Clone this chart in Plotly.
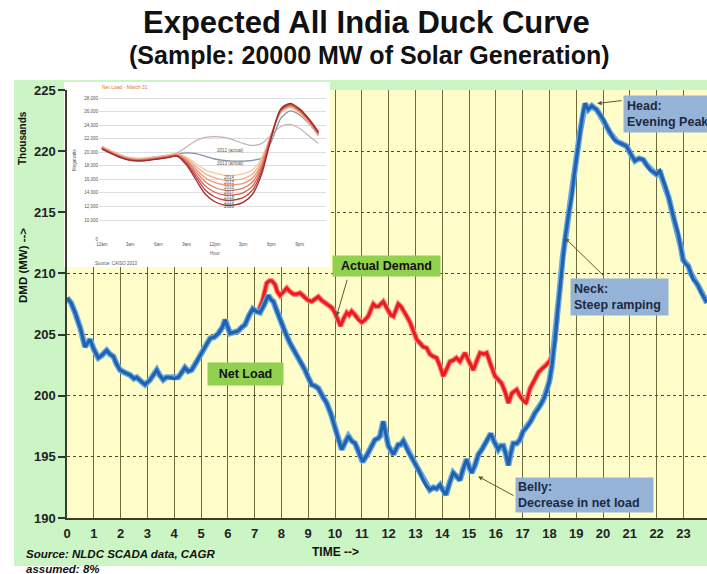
import plotly.graph_objects as go

# ---------------- main chart data (hour of day, demand in thousand MW) ----------------
net_hours = [0.00, 0.15, 0.30, 0.50, 0.67, 0.86, 1.00, 1.17, 1.30, 1.48, 1.60, 1.73, 1.85, 1.98,
             2.15, 2.35, 2.50, 2.60, 2.75, 2.91, 3.10, 3.35, 3.45, 3.59, 3.70, 3.84, 4.00, 4.15,
             4.28, 4.40, 4.52, 4.65, 4.84, 5.03, 5.20, 5.34, 5.50, 5.65, 5.80, 5.90, 6.00, 6.08,
             6.25, 6.39, 6.52, 6.64, 6.80, 6.93, 7.05, 7.20, 7.35, 7.51, 7.60, 7.70, 7.82, 7.95,
             8.12, 8.32, 8.48, 8.63, 8.75, 8.88, 9.00, 9.13, 9.25, 9.38, 9.55, 9.69, 9.85, 10.00,
             10.12, 10.25, 10.38, 10.50, 10.62, 10.75, 10.90, 11.03, 11.18, 11.31, 11.49, 11.60,
             11.68, 11.80, 11.90, 11.99, 12.10, 12.18, 12.36, 12.45, 12.55, 12.65, 12.74, 12.90,
             13.05, 13.17, 13.29, 13.42, 13.54, 13.67, 13.79, 13.92, 14.04, 14.14, 14.28, 14.41,
             14.53, 14.66, 14.78, 14.91, 15.00, 15.10, 15.22, 15.35, 15.48, 15.60, 15.70, 15.81,
             15.95, 16.09, 16.18, 16.28, 16.38, 16.47, 16.56, 16.65, 16.78, 16.90, 17.02, 17.15,
             17.30, 17.46, 17.58, 17.71, 17.80, 17.90, 18.00, 18.09, 18.21, 18.30, 18.40, 18.50,
             18.58, 18.70, 18.83, 18.92, 19.02, 19.14, 19.24, 19.33, 19.45, 19.58, 19.68, 19.76,
             19.88, 20.01, 20.14, 20.26, 20.40, 20.51, 20.70, 20.88, 21.05, 21.19, 21.35, 21.50,
             21.62, 21.75, 21.88, 22.00, 22.12, 22.20, 22.31, 22.45, 22.56, 22.68, 22.80, 22.90,
             22.99, 23.08, 23.18, 23.28, 23.37, 23.46, 23.55, 23.65, 23.74, 23.88]
net_load = [208.0, 207.6, 206.8, 205.5, 204.0, 204.6, 203.8, 203.1, 203.3, 203.7, 203.4, 203.2, 202.6, 202.1,
            201.9, 201.7, 201.4, 201.5, 201.2, 200.9, 201.3, 202.1, 201.7, 201.3, 201.5, 201.5, 201.4, 201.5,
            201.9, 202.3, 202.0, 202.1, 202.8, 203.5, 204.2, 204.7, 204.8, 205.1, 205.6, 206.2, 205.6, 205.1,
            205.2, 205.3, 205.6, 205.8, 206.6, 207.1, 206.9, 206.8, 207.4, 208.2, 207.9, 207.7, 207.0, 206.2,
            205.3, 204.3, 203.7, 203.1, 202.7, 202.1, 201.5, 200.9, 200.8, 200.6, 199.9, 199.4, 198.5, 197.5,
            196.5, 195.6, 196.2, 196.7, 196.3, 196.1, 195.3, 194.6, 195.1, 195.6, 196.4, 196.5,
            196.7, 197.9, 196.8, 195.9, 195.5, 195.2, 196.0, 196.0, 196.3, 195.8, 195.4, 194.8,
            194.2, 193.7, 193.1, 192.6, 192.3, 192.5, 192.4, 192.7, 192.2, 191.9, 192.9, 193.7,
            193.4, 193.1, 194.0, 194.8, 194.2, 193.7, 194.3, 195.2, 195.6, 196.1, 196.5, 196.9,
            196.2, 195.6, 195.9, 195.9, 195.2, 194.3, 195.3, 196.1, 196.1, 196.4, 197.1, 197.4,
            197.9, 198.6, 198.9, 199.4, 199.8, 200.4, 201.2, 202.4, 204.6, 206.8, 209.0, 211.4,
            212.8, 214.6, 216.3, 218.0, 219.6, 221.5, 223.0, 223.9, 223.4, 223.7, 223.5, 223.4,
            223.0, 222.6, 222.0, 221.5, 221.0, 220.8, 220.6, 220.4, 219.7, 219.2, 219.4, 219.3,
            218.9, 218.5, 218.3, 218.1, 218.4, 217.8, 217.2, 216.2, 215.2, 214.2, 213.3, 212.2,
            211.1, 210.8, 210.6, 210.0, 209.5, 209.3, 209.0, 208.5, 208.1, 207.6]

demand_hours = [7.14, 7.30, 7.45, 7.55, 7.64, 7.76, 7.85, 7.95, 8.08, 8.20, 8.33, 8.45, 8.57, 8.69,
                8.80, 8.88, 9.00, 9.13, 9.25, 9.38, 9.50, 9.63, 9.75, 9.88, 9.97, 10.06, 10.21, 10.32,
                10.44, 10.53, 10.62, 10.75, 10.88, 11.00, 11.12, 11.24, 11.33, 11.43, 11.52, 11.62,
                11.71, 11.80, 11.90, 11.99, 12.08, 12.18, 12.27, 12.36, 12.46, 12.55, 12.68, 12.80,
                12.92, 13.05, 13.17, 13.29, 13.42, 13.54, 13.67, 13.79, 13.92, 14.04, 14.17, 14.29,
                14.41, 14.53, 14.66, 14.75, 14.85, 15.00, 15.16, 15.28, 15.41, 15.55, 15.66, 15.80,
                15.97, 16.10, 16.22, 16.35, 16.47, 16.60, 16.70, 16.78, 16.90, 17.02, 17.13, 17.20,
                17.28, 17.45, 17.59, 17.72, 17.84, 17.95, 18.03, 18.12, 18.21, 18.30]
actual_demand = [206.9, 207.8, 209.2, 209.4, 209.4, 209.1, 208.5, 208.2, 208.5, 208.8, 208.5, 208.3, 208.3, 208.4,
                 208.2, 208.0, 207.8, 207.7, 207.9, 208.1, 207.8, 207.6, 207.4, 207.2, 206.9, 206.5, 205.7, 206.3,
                 206.8, 206.6, 206.9, 206.6, 206.2, 206.0, 206.2, 206.5, 207.0, 207.5, 207.3, 207.3,
                 207.5, 207.7, 207.3, 207.0, 206.6, 206.5, 207.0, 207.5, 207.3, 207.0, 206.5, 206.0,
                 205.3, 204.6, 204.3, 204.0, 203.9, 203.4, 203.2, 203.1, 202.4, 201.6, 202.2, 202.8,
                 202.9, 203.1, 202.8, 203.2, 203.5, 202.8, 202.1, 202.8, 203.5, 203.4, 203.5, 202.6,
                 201.6, 201.3, 201.0, 200.3, 199.4, 200.2, 200.4, 200.5, 200.0, 199.6, 199.4, 200.0,
                 200.6, 201.3, 201.9, 202.2, 202.4, 202.7, 202.9, 203.5, 204.6, 206.8]

hour_ticks = list(range(24))
dmd_ticks = [190, 195, 200, 205, 210, 215, 220, 225]

# ---------------- inset: CAISO net load curves (MW by hour) ----------------
inset_hours = list(range(24))
net_2012 = [20900, 20200, 19600, 19200, 19100, 19200, 19400, 19600, 19900, 20800, 21700, 22200,
            22300, 22200, 21800, 21300, 21000, 21300, 22600, 23800, 24100, 23500, 22400, 21300]
net_2013 = [20700, 20000, 19400, 19000, 18900, 19000, 19200, 19400, 19700, 19900, 19800, 19400,
            19000, 18800, 18700, 18700, 18800, 19200, 21600, 25000, 26100, 25500, 24200, 22500]
net_2014 = [20800, 20100, 19500, 19100, 19000, 19100, 19300, 19500, 19700, 19300, 18300, 17400,
            16900, 16600, 16600, 16800, 17400, 19300, 22800, 25800, 26600, 25800, 24300, 22400]
net_2015 = [20750, 20050, 19450, 19050, 18950, 19050, 19250, 19450, 19650, 19100, 17900, 16800,
            16200, 15900, 15900, 16100, 16800, 18900, 22700, 25900, 26700, 25900, 24400, 22500]
net_2016 = [20700, 20000, 19400, 19000, 18900, 19000, 19200, 19400, 19600, 18900, 17500, 16200,
            15500, 15200, 15200, 15400, 16200, 18500, 22600, 26000, 26800, 26000, 24500, 22600]
net_2017 = [20650, 19950, 19350, 18950, 18850, 18950, 19150, 19350, 19550, 18700, 17100, 15600,
            14800, 14400, 14400, 14700, 15600, 18100, 22500, 26100, 26900, 26100, 24600, 22700]
net_2018 = [20600, 19900, 19300, 18900, 18800, 18900, 19100, 19300, 19500, 18500, 16700, 15000,
            14100, 13700, 13700, 14000, 15000, 17700, 22400, 26200, 27000, 26200, 24700, 22800]
net_2019 = [20550, 19850, 19250, 18850, 18750, 18850, 19050, 19250, 19450, 18300, 16300, 14400,
            13400, 12950, 12950, 13300, 14400, 17300, 22300, 26300, 27100, 26300, 24800, 22900]
net_2020 = [20500, 19800, 19200, 18800, 18700, 18800, 19000, 19200, 19400, 18100, 15900, 13800,
            12700, 12200, 12200, 12600, 13800, 16900, 22200, 26400, 27200, 26400, 24900, 23000]

inset_labels = ["2012 (actual)", "2013 (actual)", "2014", "2015", "2016", "2017", "2018", "2019", "2020"]
inset_curves = [net_2012, net_2013, net_2014, net_2015, net_2016, net_2017, net_2018, net_2019, net_2020]
inset_colors = ["#c9b3b3", "#8593ad", "#f6c9a3", "#f2b088", "#ec9675", "#e17b63", "#d25f52", "#bd4444", "#a32c2c"]
inset_label_hour = [13.7, 13.7, 13.6, 13.6, 13.6, 13.6, 13.6, 13.6, 13.6]
inset_label_mw = [20220, 18360, 16340, 15600, 14870, 14130, 13390, 12650, 11920]

inset_hour_ticks = [0, 3, 6, 9, 12, 15, 18, 21]
inset_hour_text = ["12am", "3am", "6am", "9am", "12pm", "3pm", "6pm", "9pm"]
inset_mw_ticks = [7100, 10000, 12000, 14000, 16000, 18000, 20000, 22000, 24000, 26000, 28000]
inset_mw_text = ["0", "10,000", "12,000", "14,000", "16,000", "18,000", "20,000", "22,000",
                 "24,000", "26,000", "28,000"]

# ---------------- layout geometry ----------------
W, H = 707, 574
L, R, T, B = 67, 0, 90, 56
X_MAX = 23.88
FONT = "Arial, Liberation Sans, sans-serif"


def px(x):
    return (x - L) / (W - L - R)


def py(y):
    return (H - B - y) / (H - T - B)


fig = go.Figure()

# actual demand (red) drawn first so the net load sits on top where they coincide
fig.add_trace(go.Scatter(x=demand_hours, y=actual_demand, mode="lines",
                         line=dict(color="#f58b84", width=5.5), hoverinfo="skip"))
fig.add_trace(go.Scatter(x=demand_hours, y=actual_demand, mode="lines",
                         line=dict(color="#ec1c1c", width=3.2), hoverinfo="skip"))
# net load (blue) with a soft halo
fig.add_trace(go.Scatter(x=net_hours, y=net_load, mode="lines",
                         line=dict(color="#67a6e0", width=6), hoverinfo="skip"))
fig.add_trace(go.Scatter(x=net_hours, y=net_load, mode="lines",
                         line=dict(color="#1f62ae", width=3.2), hoverinfo="skip"))

# inset curves
for name, vals, col in zip(inset_labels, inset_curves, inset_colors):
    fig.add_trace(go.Scatter(x=inset_hours, y=vals, mode="lines", name=name,
                             line=dict(color=col, width=1.3, shape="spline", smoothing=0.8),
                             xaxis="x2", yaxis="y2", hoverinfo="skip"))

shapes = [
    # green slide panel
    dict(type="rect", xref="paper", yref="paper", x0=px(14), x1=1.0, y0=py(566), y1=py(80),
         fillcolor="#ccf5c5", line=dict(width=0), layer="below"),
    # yellow plot area
    dict(type="rect", xref="paper", yref="paper", x0=0, x1=1, y0=0, y1=1,
         fillcolor="#fffdca", line=dict(width=0), layer="below"),
    # white inset panel (outside plot area part)
    dict(type="rect", xref="paper", yref="paper", x0=px(64), x1=px(330), y0=py(267), y1=py(82),
         fillcolor="white", line=dict(width=0), layer="below"),
    # white inset panel covering the main grid
    dict(type="rect", xref="x", yref="y", x0=-1, x1=(330 - L) / ((W - L - R) / X_MAX),
         y0=225 - (267 - T) / ((H - T - B) / 35.0), y1=226,
         fillcolor="white", line=dict(width=0), layer="between"),
]

ann = []
# titles
ann.append(dict(text="<b>Expected All India Duck Curve</b>", x=px(366), y=py(22), xref="paper", yref="paper",
                showarrow=False, font=dict(family=FONT, size=31, color="#111"), xanchor="center", yanchor="middle"))
ann.append(dict(text="<b>(Sample: 20000 MW of Solar Generation)</b>", x=px(369), y=py(55), xref="paper",
                yref="paper", showarrow=False, font=dict(family=FONT, size=25, color="#111"),
                xanchor="center", yanchor="middle"))
# axis titles and notes
ann.append(dict(text="<b>DMD (MW) --></b>", x=px(23), y=py(266), xref="paper", yref="paper", textangle=-90,
                showarrow=False, font=dict(family=FONT, size=11.5, color="#111"), xanchor="center", yanchor="middle"))
ann.append(dict(text="<b>Thousands</b>", x=px(22), y=py(138), xref="paper", yref="paper", textangle=-90,
                showarrow=False, font=dict(family=FONT, size=10, color="#111"), xanchor="center", yanchor="middle"))
ann.append(dict(text="<b>TIME --></b>", x=px(335), y=py(552), xref="paper", yref="paper",
                showarrow=False, font=dict(family=FONT, size=12, color="#111"), xanchor="center", yanchor="middle"))
ann.append(dict(text="<b><i>Source: NLDC SCADA data, CAGR<br>assumed: 8%</i></b>", x=px(24), y=py(546),
                xref="paper", yref="paper", showarrow=False, align="left",
                font=dict(family=FONT, size=11.5, color="#111"), xanchor="left", yanchor="top"))

# callout boxes
GREEN = "#92d050"
BLUE_BOX = "#95b3d7"
box_font = dict(family=FONT, size=12.5, color="#111")
blue_font = dict(family=FONT, size=12.5, color="#1d2940")
ann.append(dict(text="<b>Actual Demand</b>", x=px(386), y=py(266), xref="paper", yref="paper", showarrow=False,
                bgcolor=GREEN, borderpad=3, width=101, font=box_font, xanchor="center", yanchor="middle"))
ann.append(dict(text="<b>Net Load</b>", x=px(245), y=py(374), xref="paper", yref="paper", showarrow=False,
                bgcolor=GREEN, borderpad=4, width=67, font=box_font, xanchor="center", yanchor="middle"))
ann.append(dict(text="<b>Head:<br>Evening Peak</b>", x=px(623), y=py(114), xref="paper", yref="paper",
                showarrow=False, bgcolor=BLUE_BOX, borderpad=3, width=100, align="left",
                font=blue_font, xanchor="left", yanchor="middle"))
ann.append(dict(text="<b>Neck:<br>Steep ramping</b>", x=px(570), y=py(297), xref="paper", yref="paper",
                showarrow=False, bgcolor=BLUE_BOX, borderpad=3, width=91, align="left",
                font=blue_font, xanchor="left", yanchor="middle"))
ann.append(dict(text="<b>Belly:<br>Decrease in net load</b>", x=px(515), y=py(495), xref="paper", yref="paper",
                showarrow=False, bgcolor=BLUE_BOX, borderpad=2, width=133, align="left",
                font=blue_font, xanchor="left", yanchor="middle"))

# pointer arrows
arrow_style = dict(showarrow=True, arrowhead=2, arrowsize=0.9, arrowwidth=1, arrowcolor="#5b5a3c",
                   text="", xref="x", yref="y", axref="pixel", ayref="pixel", standoff=0)
ann.append(dict(x=10.06, y=206.5, ax=11, ay=-38, **arrow_style))
ann.append(dict(x=19.78, y=223.9, ax=26, ay=-3, **arrow_style))
ann.append(dict(x=18.58, y=212.9, ax=40, ay=39, **arrow_style))
ann.append(dict(x=15.34, y=193.4, ax=37, ay=20, **arrow_style))

# inset texts
tiny = dict(family=FONT, size=4.5, color="#555")
for lab, hx, mw in zip(inset_labels, inset_label_hour, inset_label_mw):
    ann.append(dict(text=lab, x=hx, y=mw, xref="x2", yref="y2", showarrow=False, font=tiny,
                    xanchor="center", yanchor="middle"))
ann.append(dict(text="Net Load - March 31", x=px(100), y=py(87), xref="paper", yref="paper", showarrow=False,
                font=dict(family=FONT, size=5, color="#e0782f"), xanchor="left", yanchor="middle"))
ann.append(dict(text="Megawatts", x=px(74), y=py(160), xref="paper", yref="paper", showarrow=False,
                textangle=-90, font=tiny, xanchor="center", yanchor="middle"))
ann.append(dict(text="Hour", x=px(215), y=py(253), xref="paper", yref="paper", showarrow=False,
                font=tiny, xanchor="center", yanchor="middle"))
ann.append(dict(text="Source: CAISO 2013", x=px(93), y=py(263), xref="paper", yref="paper", showarrow=False,
                font=tiny, xanchor="left", yanchor="middle"))

fig.update_layout(
    width=W, height=H,
    margin=dict(l=L, r=R, t=T, b=B, pad=0),
    paper_bgcolor="white",
    plot_bgcolor="rgba(0,0,0,0)",
    showlegend=False,
    hovermode=False,
    font=dict(family=FONT),
    shapes=shapes,
    annotations=ann,
    xaxis=dict(domain=[0, 1], range=[0, X_MAX], tickvals=hour_ticks, showgrid=True,
               gridcolor="#6d6b3e", gridwidth=1.3, zeroline=False, showline=True,
               linecolor="#3c3c2c", linewidth=1.5, ticks="", ticklabelstandoff=3,
               tickfont=dict(family=FONT, size=13, color="#222", weight="bold"), fixedrange=True),
    yaxis=dict(domain=[0, 1], range=[190, 225], tickvals=dmd_ticks, showgrid=True,
               gridcolor="#4e4d2e", gridwidth=1.4, griddash="dot", zeroline=False, showline=True,
               linecolor="#3c3c2c", linewidth=1.5, ticks="outside", ticklen=7, tickwidth=1.5,
               tickcolor="#333", tickfont=dict(family=FONT, size=13, color="#222", weight="bold"),
               fixedrange=True),
    xaxis2=dict(domain=[px(99), px(326)], anchor="y2", range=[-0.3, 23.8], tickvals=inset_hour_ticks,
                ticktext=inset_hour_text, showgrid=False, zeroline=False, showline=False, ticks="",
                tickfont=tiny, fixedrange=True),
    yaxis2=dict(domain=[py(240), py(93)], anchor="x2", range=[7050, 28740], tickvals=inset_mw_ticks,
                ticktext=inset_mw_text, showgrid=True, gridcolor="#dedede", gridwidth=0.8,
                zeroline=False, showline=False, ticks="", tickfont=tiny, fixedrange=True),
)

fig.write_html("out.html")
